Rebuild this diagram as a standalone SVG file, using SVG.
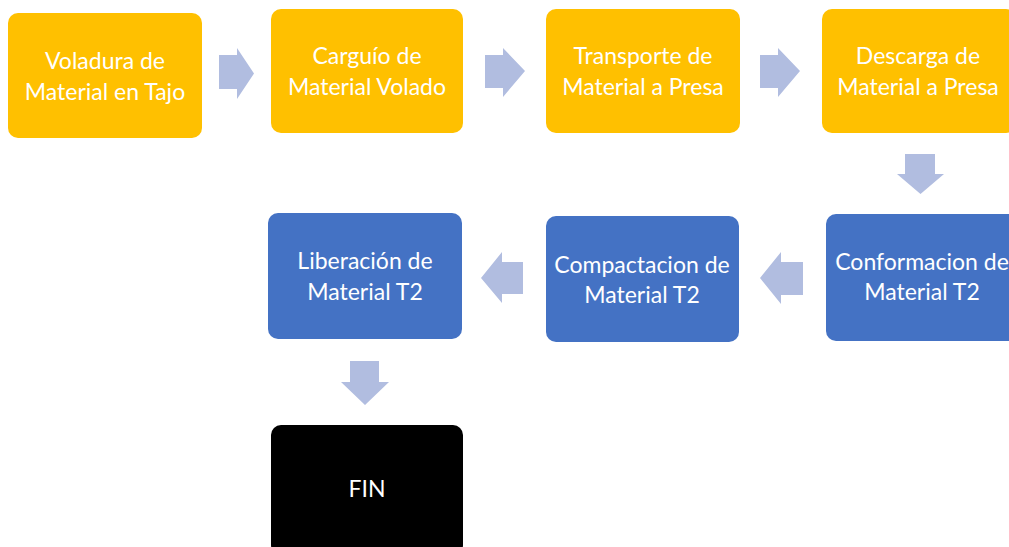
<svg xmlns="http://www.w3.org/2000/svg" width="1009" height="547" viewBox="0 0 1009 547">
<style>
.y{fill:#FFC000}
.b{fill:#4472C4}
.k{fill:#000000}
.t{font-family:Lato,"Liberation Sans",sans-serif;font-size:23px;fill:#ffffff;text-anchor:middle;dominant-baseline:central}
.a{fill:#B1BDE0}
</style>
<rect width="1009" height="547" fill="#ffffff"/>
<g id="connectors">
<polygon class="a" points="219,55 237,55 237,48 254,73.5 237,99 237,89 219,89"/>
<polygon class="a" points="485,55 503,55 503,48 525,71 503,97 503,88 485,88"/>
<polygon class="a" points="760,55 778,55 778,48 800,71 778,97 778,88 760,88"/>
<polygon class="a" points="905,154 935,154 935,174 944,174 920.5,194 897,174 905,174"/>
<polygon class="a" points="803,262 781,262 781,252 760,278 781,304 781,295 803,295"/>
<polygon class="a" points="523,262 502,262 502,252 481,278 502,303 502,294 523,294"/>
<polygon class="a" points="350,361 379,361 379,382 389,382 365,405 341,382 350,382"/>
</g>
<g id="n1"><rect class="y" x="8" y="13" width="194" height="125" rx="10"/><text class="t" x="105" y="60">Voladura de</text><text class="t" x="105" y="91">Material en Tajo</text></g>
<g id="n2"><rect class="y" x="271" y="9" width="192" height="124" rx="10"/><text class="t" x="367" y="55">Carguío de</text><text class="t" x="367" y="86">Material Volado</text></g>
<g id="n3"><rect class="y" x="546" y="9" width="194" height="124" rx="10"/><text class="t" x="643" y="55">Transporte de</text><text class="t" x="643" y="86">Material a Presa</text></g>
<g id="n4"><rect class="y" x="822" y="9" width="194" height="124" rx="10"/><text class="t" x="918" y="55">Descarga de</text><text class="t" x="918" y="86">Material a Presa</text></g>
<g id="n5"><rect class="b" x="826" y="214" width="194" height="127" rx="10"/><text class="t" x="922" y="261">Conformacion de</text><text class="t" x="922" y="291">Material T2</text></g>
<g id="n6"><rect class="b" x="546" y="216" width="193" height="126" rx="10"/><text class="t" x="642" y="264">Compactacion de</text><text class="t" x="642" y="294">Material T2</text></g>
<g id="n7"><rect class="b" x="268" y="213" width="194" height="126" rx="10"/><text class="t" x="365" y="260">Liberación de</text><text class="t" x="365" y="291">Material T2</text></g>
<g id="n8"><rect class="k" x="271" y="425" width="192" height="130" rx="10"/><text class="t" x="367" y="488">FIN</text></g>
</svg>
